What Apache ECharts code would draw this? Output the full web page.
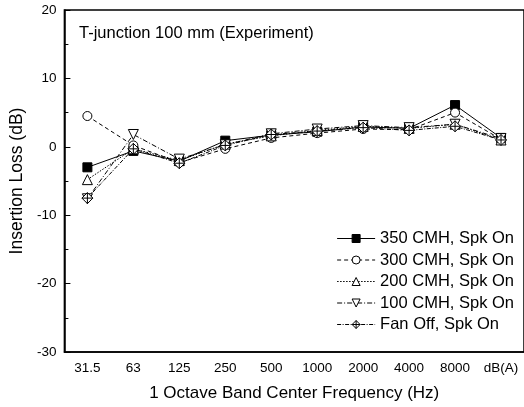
<!DOCTYPE html>
<html><head><meta charset="utf-8">
<script src="https://cdn.jsdelivr.net/npm/echarts@6/dist/echarts.min.js"></script>
<style>html,body{margin:0;padding:0;background:#fff}#c{width:524px;height:407px}</style>
</head><body><div id="c"></div>
<script>
var categories = ['31.5','63','125','250','500','1000','2000','4000','8000','dB(A)'];
var s350 = [-3.0, -0.6, -2.1, 0.9, 1.7, 2.2, 2.9, 2.7, 6.1, 1.3];
var s300 = [4.5, 0.2, -2.3, -0.3, 1.3, 2.0, 2.6, 2.5, 5.0, 1.1];
var s200 = [-4.8, -0.3, -2.0, 0.4, 1.6, 2.4, 3.0, 2.7, 3.3, 1.0];
var s100 = [-7.6, 1.8, -1.8, 0.3, 1.9, 2.6, 3.1, 2.8, 3.3, 1.2];
var sFan = [-7.5, -0.3, -2.4, 0.2, 1.8, 2.3, 2.8, 2.4, 3.0, 1.0];
var seriesNames = ['350 CMH, Spk On','300 CMH, Spk On','200 CMH, Spk On','100 CMH, Spk On','Fan Off, Spk On'];
var yTicks = [-30, -20, -10, 0, 10, 20];

var font = 'Arial, "Liberation Sans", sans-serif';
var triDown = 'path://M0,0 L10,0 L5,9 Z';
var diaCross = 'path://M5,0 L10,5 L5,10 L0,5 Z M5,0 L5,10 M0,5 L10,5';
var symbols = ['rect', 'circle', 'triangle', triDown, diaCross];
var fills = ['#000', '#fff', '#fff', '#fff', '#fff'];
function mk(i, data, lineType, size) {
  return {
    name: seriesNames[i], type: 'line', data: data, symbol: symbols[i], symbolSize: size,
    lineStyle: {color: '#000', width: 1, type: lineType},
    itemStyle: {color: fills[i], borderColor: '#000', borderWidth: 1},
    emphasis: {disabled: true}, animation: false
  };
}
var chart = echarts.init(document.getElementById('c'));
chart.setOption({
  animation: false,
  backgroundColor: '#fff',
  grid: {left: 59, top: 10, right: -2, bottom: 53, show: true, borderColor: '#000', borderWidth: 1.5, backgroundColor: 'transparent'},
  title: {text: 'T-junction 100 mm (Experiment)', left: 74, top: 20, textStyle: {fontFamily: font, fontSize: 16.5, fontWeight: 'normal', color: '#000'}},
  legend: {
    right: 5, top: 225, orient: 'vertical', itemGap: 4.5, itemWidth: 38, itemHeight: 10,
    textStyle: {fontFamily: font, fontSize: 16.5, color: '#000'},
    lineStyle: {width: 1},
    itemStyle: {borderWidth: 1},
    data: seriesNames
  },
  xAxis: {
    type: 'category', data: categories, boundaryGap: true,
    axisLine: {onZero: false, lineStyle: {color: '#000', width: 1.5}},
    axisTick: {inside: true, alignWithLabel: true, length: 6, lineStyle: {color: '#000', width: 1}},
    axisLabel: {fontFamily: font, fontSize: 13.5, color: '#000', margin: 9},
    name: '1 Octave Band Center Frequency (Hz)', nameLocation: 'middle', nameGap: 33,
    nameTextStyle: {fontFamily: font, fontSize: 17, color: '#000'}
  },
  yAxis: {
    type: 'value', min: yTicks[0], max: yTicks[yTicks.length-1], interval: 10,
    axisLine: {show: true, lineStyle: {color: '#000', width: 1.5}},
    axisTick: {show: true, inside: true, length: 6, lineStyle: {color: '#000'}},
    minorTick: {show: true, splitNumber: 2, length: 4, lineStyle: {color: '#000'}},
    splitLine: {show: false},
    axisLabel: {fontFamily: font, fontSize: 13.5, color: '#000', margin: 8},
    name: 'Insertion Loss (dB)', nameLocation: 'middle', nameGap: 33,
    nameTextStyle: {fontFamily: font, fontSize: 17.5, color: '#000'}
  },
  series: [
    mk(0, s350, 'solid', 9),
    mk(1, s300, [4,3], 9),
    mk(2, s200, [1.5,1.5], 10),
    mk(3, s100, [5,2,1,2], 10),
    mk(4, sFan, [4,1.5,1,1.5], 11)
  ]
});
</script></body></html>
